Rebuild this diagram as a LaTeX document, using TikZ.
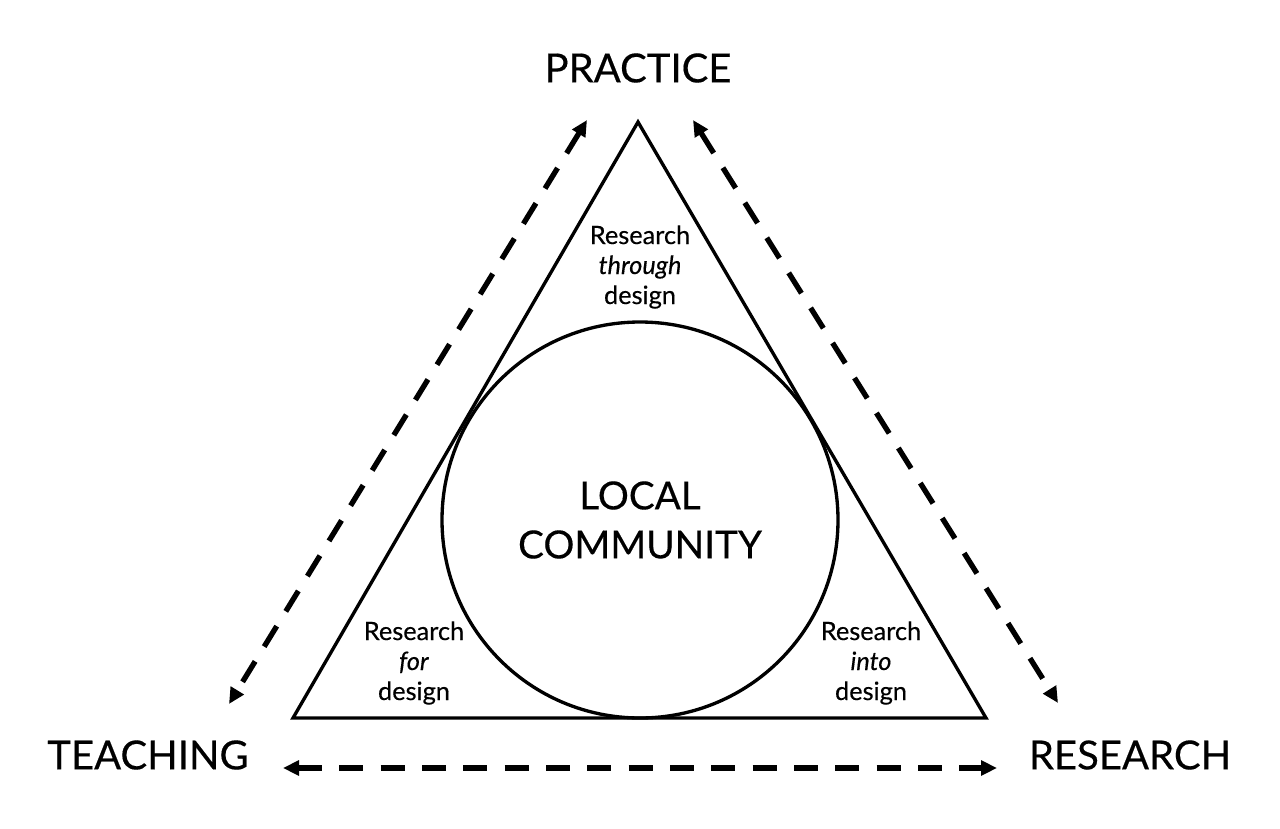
\documentclass[tikz,border=0pt]{standalone}
\usepackage{fontspec}
\setmainfont{Lato}[FakeBold=0.35]
\usetikzlibrary{arrows.meta}
\begin{document}
\begin{tikzpicture}[x=0.75pt,y=-0.75pt,
  shape line/.style={line width=2.5pt, line join=miter},
  dasharrow/.style={line width=4pt, dash pattern=on 18pt off 13pt, {Triangle[length=12pt,width=11pt]}-{Triangle[length=12pt,width=11pt]}},
  biglabel/.style={font=\fontsize{30}{34}\selectfont, inner sep=0pt},
  smalllabel/.style={font=\fontsize{19}{22.5}\selectfont, align=center, inner sep=0pt}]
\useasboundingbox (0,0) rectangle (1280,828);
% triangle vertices
\coordinate (T) at (638,122);
\coordinate (L) at (293,718);
\coordinate (R) at (986,718);
\draw[shape line] (T) -- (L) -- (R) -- cycle;
% circle
\node[draw, circle, line width=2.5pt, minimum size=396*0.75pt, inner sep=0pt] (C) at (640,520) {};
% labels
\node[biglabel] (practice) at (638,68) {PRACTICE};
\node[biglabel] (teaching) at (148,755) {TEACHING};
\node[biglabel] (research) at (1130,755) {RESEARCH};
\node[biglabel, align=center, font=\fontsize{29}{36.75}\selectfont] (local) at (640,520) {LOCAL\\COMMUNITY};
\node[smalllabel] (rtd) at (640,267) {Research\\\textit{through}\\design};
\node[smalllabel] (rfd) at (414,663) {Research\\\textit{for}\\design};
\node[smalllabel] (rid) at (871,663) {Research\\\textit{into}\\design};
% arrow end points
\coordinate (a1) at (587,120);
\coordinate (a2) at (229,704);
\coordinate (b1) at (693,120);
\coordinate (b2) at (1058,703);
\coordinate (c1) at (283,768);
\coordinate (c2) at (997,768);
\draw[dasharrow] (a1) -- (a2);
\draw[dasharrow] (b1) -- (b2);
\draw[dasharrow] (c1) -- (c2);
\end{tikzpicture}
\end{document}
